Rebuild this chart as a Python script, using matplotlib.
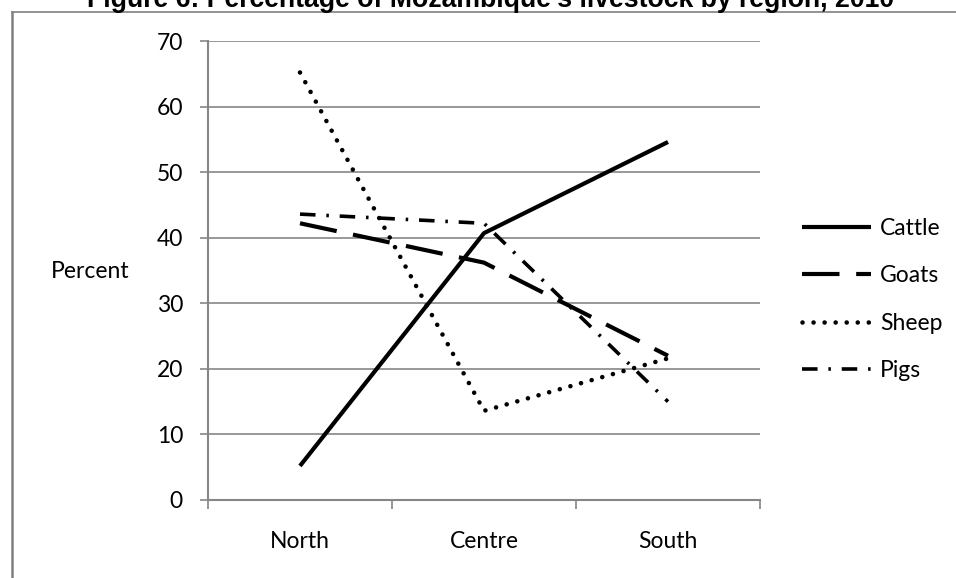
import numpy as np
import matplotlib
matplotlib.use("Agg")
import matplotlib.pyplot as plt
from matplotlib.lines import Line2D

regions = ["North", "Centre", "South"]
cattle = [5.2, 40.7, 54.6]
goats = [42.2, 36.2, 22.0]
sheep = [65.2, 13.6, 21.6]
pigs = [43.6, 42.2, 15.0]
yticks = [0, 10, 20, 30, 40, 50, 60, 70]

title = "Figure 6: Percentage of Mozambique's livestock by region, 2010"

plt.rcParams['font.family'] = ['Lato', 'DejaVu Sans']
grey = "#868686"

fig = plt.figure(figsize=(9.56, 5.78), dpi=100)
ax = fig.add_axes([208 / 956, 1 - 500 / 578, 552 / 956, 459 / 578])

x = np.arange(len(regions))
ax.plot(x, cattle, color="black", lw=3.0, solid_capstyle="butt", label="Cattle")
ax.plot(x, goats, color="black", lw=3.0, dashes=(9, 4), dash_capstyle="butt",
        label="Goats")
ax.plot(x, sheep, color="black", lw=3.3, dashes=(0.01, 2.4),
        dash_capstyle="round", label="Sheep")
ax.plot(x, pigs, color="black", lw=2.6, dashes=(4.3, 3.0, 0.7, 3.0),
        dash_capstyle="butt", label="Pigs")

ax.set_xlim(-0.5, 2.5)
ax.set_ylim(0, 70)
ax.set_yticks(yticks)
ax.grid(axis="y", color=grey, lw=1.2)
ax.set_axisbelow(True)
for side in ["top", "right"]:
    ax.spines[side].set_visible(False)
for side in ["left", "bottom"]:
    ax.spines[side].set_color(grey)
    ax.spines[side].set_linewidth(1.5)

ax.set_xticks([-0.5, 0.5, 1.5, 2.5])
ax.set_xticklabels([])
ax.set_xticks(x, minor=True)
ax.set_xticklabels(regions, minor=True)
ax.tick_params(axis="x", which="major", length=6.5, width=1.2, color=grey)
ax.tick_params(axis="x", which="minor", length=0, pad=22, labelsize=16.5)
ax.tick_params(axis="y", length=6, width=1.2, color=grey, pad=12,
               labelsize=16.5)

ax.set_ylabel("Percent", rotation=0, fontsize=16.5, ha="center", va="center")
ax.yaxis.set_label_coords((90 - 208) / 552, (500 - 272) / 459)

fig.legend(loc="center left", bbox_to_anchor=(802 / 956, 1 - 299.5 / 578),
           frameon=False, fontsize=16.5, handlelength=3.0, handletextpad=0.4,
           borderpad=0, borderaxespad=0, labelspacing=1.15)

fig.text(491 / 956, 1 - 7 / 578, title, ha="center", va="baseline",
         fontsize=19.2, fontweight="bold", family="Liberation Sans")

# page frame around the chart
fig.add_artist(Line2D([12 / 956, 12 / 956], [0, 1 - 12 / 578],
                      transform=fig.transFigure, color="#808080", lw=1.8))
fig.add_artist(Line2D([12 / 956, 1], [1 - 12 / 578, 1 - 12 / 578],
                      transform=fig.transFigure, color="#808080", lw=1.2))

fig.savefig("out.png", dpi=100)
